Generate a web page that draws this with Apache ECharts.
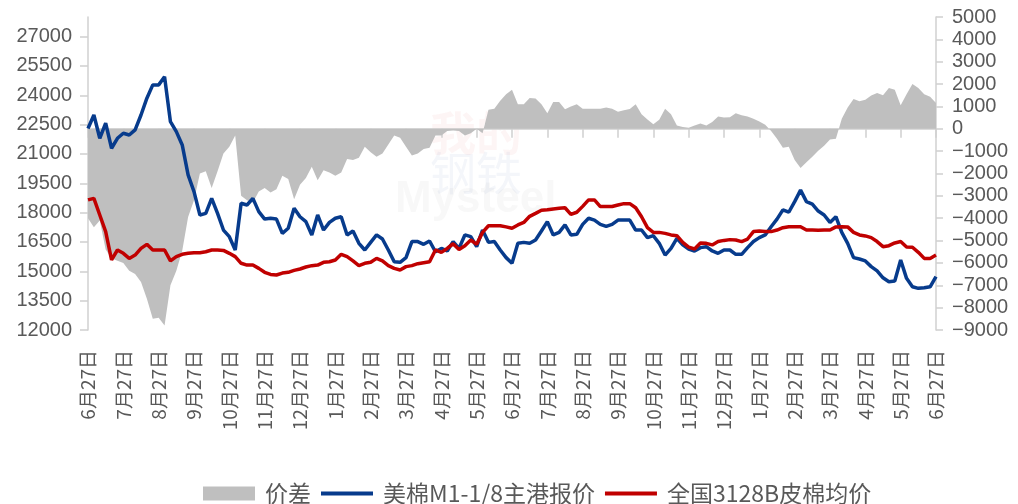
<!DOCTYPE html>
<html>
<head>
<meta charset="utf-8">
<script src="https://cdn.jsdelivr.net/npm/echarts@6/dist/echarts.min.js"></script>
<style>
  html, body { margin: 0; padding: 0; background: #fff; }
  #chart { width: 1018px; height: 504px; }
</style>
</head>
<body>
<div id="chart"></div>
<script>
// 月度刻度标签（6月27日 ~ 次年次年6月27日，共两年）
const monthLabels = ['6月27日', '7月27日', '8月27日', '9月27日', '10月27日', '11月27日', '12月27日',
  '1月27日', '2月27日', '3月27日', '4月27日', '5月27日', '6月27日', '7月27日', '8月27日', '9月27日',
  '10月27日', '11月27日', '12月27日', '1月27日', '2月27日', '3月27日', '4月27日', '5月27日', '6月27日'];
// 每月取6个点
const perMonth = 6;

// 美棉M1-1/8主港报价（左轴）
const usCotton = [
  22300, 22990, 21800, 22570, 21290, 21800,
  22060, 21970, 22230, 22990, 23850, 24530,
  24530, 24950, 22650, 22140, 21460, 19930,
  19070, 17880, 17960, 18730, 17960, 17110,
  16770, 16090, 18480, 18390, 18730, 18050,
  17670, 17710, 17670, 16940, 17200, 18220,
  17790, 17540, 16860, 17880, 17110, 17500,
  17710, 17790, 16860, 17060, 16430, 16090,
  16480, 16860, 16650, 16090, 15490, 15460,
  15700, 16520, 16520, 16380, 16550, 16000,
  16170, 16040, 16520, 16170, 16860, 16770,
  16260, 17110, 16480, 16520, 16090, 15700,
  15410, 16430, 16480, 16430, 16600, 17060,
  17540, 16860, 16990, 17370, 16860, 16890,
  17400, 17710, 17620, 17400, 17300, 17400,
  17620, 17620, 17620, 17110, 17110, 16720,
  16820, 16430, 15830, 16170, 16690, 16350,
  16140, 16040, 16210, 16260, 16040, 15920,
  16090, 16090, 15870, 15870, 16210, 16520,
  16720, 16860, 17280, 17670, 18140, 18020,
  18560, 19150, 18560, 18430, 18080, 17880,
  17500, 17790, 16990, 16430, 15700, 15630,
  15530, 15240, 15020, 14670, 14470, 14500,
  15580, 14640, 14210, 14130, 14160, 14210,
  14730
];

// 全国3128B皮棉均价（左轴）
const cnCotton = [
  18650, 18730, 17880, 17030, 15580, 16090,
  15920, 15660, 15830, 16170, 16380, 16090,
  16090, 16090, 15530, 15750, 15870, 15920,
  15950, 15950, 16000, 16090, 16090, 16070,
  15920, 15750, 15410, 15320, 15320, 15150,
  14950, 14840, 14810, 14910, 14950, 15050,
  15120, 15220, 15290, 15320, 15460, 15490,
  15580, 15870, 15750, 15530, 15290, 15410,
  15460, 15660, 15530, 15290, 15150, 15070,
  15240, 15290, 15390, 15440, 15490, 16090,
  15970, 16170, 16410, 16120, 16310, 16600,
  16380, 16990, 17330, 17330, 17330, 17270,
  17200, 17370, 17500, 17810, 17960, 18120,
  18150, 18190, 18220, 18250, 17910, 18020,
  18320, 18650, 18650, 18310, 18310, 18310,
  18390, 18460, 18460, 18250, 17790, 17230,
  16990, 16990, 16940, 16860, 16820, 16480,
  16240, 16140, 16450, 16430, 16350, 16520,
  16580, 16620, 16600, 16520, 16650, 17030,
  17060, 17040, 17030, 17110, 17230, 17280,
  17280, 17280, 17110, 17110, 17100, 17110,
  17110, 17270, 17280, 17270, 16990, 16860,
  16810, 16720, 16520, 16260, 16310, 16450,
  16520, 16240, 16230, 15970, 15660, 15660,
  15830
];

// 价差（右轴）
const spread = [
  -4000, -4400, -4100, -5400, -5800, -5900,
  -6000, -6350, -6500, -6850, -7600, -8500,
  -8450, -8800, -7000, -6350, -5450, -3950,
  -3200, -2000, -1900, -2650, -1900, -1100,
  -800, -300, -3000, -3200, -3300, -2800,
  -2650, -2850, -2700, -2100, -2250, -3150,
  -2500, -2200, -1700, -2300, -1850, -1950,
  -2100, -1950, -1350, -1400, -1300, -800,
  -1050, -1250, -1100, -700, -300, -400,
  -800, -1200, -1100, -900, -850, -300,
  -300, -100, -80, -100, -300, -200,
  0, -200, 850, 900, 1250, 1550,
  1750, 1100, 1100, 1380, 1350, 1100,
  700, 1200, 1200, 870, 1000, 1100,
  900, 900, 900, 900, 950, 900,
  760, 830, 880, 1100, 650, 420,
  200, 400, 900, 650, 150, 80,
  50, 150, 240, 150, 300, 550,
  500, 520, 700, 600, 550, 450,
  330, 180, -100, -450, -850, -800,
  -1400, -1750, -1500, -1250, -980, -760,
  -480, -450, 450, 950, 1330, 1230,
  1300, 1490, 1600, 1500, 1820, 1750,
  1050, 1550, 2000, 1820, 1550, 1430,
  1150
];

// 类目轴：每个月展开6个点，只在月初位置显示标签
let categories = [];
for (let i = 0; i < monthLabels.length - 1; i++) {
  for (let j = 0; j < perMonth; j++) {
    categories.push(i + '-' + j);
  }
}
categories.push((monthLabels.length - 1) + '-0');

const axisColor = '#D0D0D0';
const textColor = '#595959';

let myChart = echarts.init(document.getElementById('chart'));

let option = {
  animation: false,
  backgroundColor: '#fff',
  grid: { left: 88, right: 82, top: 17, bottom: 174 },
  legend: {
    left: 198,
    top: 477,
    itemWidth: 52,
    itemHeight: 14,
    itemGap: 8,
    textStyle: { fontSize: 23, color: textColor, fontFamily: 'Noto Sans CJK SC', padding: [0, 0, 0, 5] },
    data: [
      { name: '价差', icon: 'rect' },
      { name: '美棉M1-1/8主港报价', itemStyle: { opacity: 0 }, lineStyle: { width: 4 } },
      { name: '全国3128B皮棉均价', itemStyle: { opacity: 0 }, lineStyle: { width: 4 } }
    ]
  },
  graphic: [
    { type: 'text', left: 430, top: 110, z: 0, style: { text: '我的', fontSize: 46, fontWeight: 'bold', fill: 'rgba(220,60,60,0.05)', fontFamily: 'Noto Sans CJK SC' } },
    { type: 'text', left: 430, top: 150, z: 0, style: { text: '钢铁', fontSize: 46, fill: 'rgba(40,70,160,0.05)', fontFamily: 'Noto Sans CJK SC' } },
    { type: 'text', left: 395, top: 178, z: 0, style: { text: 'Mysteel', fontSize: 44, fontWeight: 'bold', fill: 'rgba(120,120,120,0.05)', fontFamily: 'Liberation Sans' } }
  ],
  xAxis: {
    type: 'category',
    boundaryGap: false,
    data: categories,
    axisLine: { lineStyle: { color: axisColor, width: 1.5 } },
    axisTick: { interval: perMonth - 1, length: 9, lineStyle: { color: axisColor, width: 1.5 } },
    axisLabel: {
      interval: perMonth - 1,
      rotate: 90,
      margin: 20,
      fontSize: 19,
      color: textColor,
      fontFamily: 'Noto Sans CJK SC',
      formatter: function (v, idx) {
        return idx % perMonth === 0 ? monthLabels[idx / perMonth] : '';
      }
    }
  },
  yAxis: [
    {
      type: 'value',
      min: 12000,
      max: 28000,
      interval: 1500,
      axisLine: { show: true, lineStyle: { color: axisColor, width: 1.5 } },
      axisTick: { show: true, length: 8, lineStyle: { color: axisColor, width: 1.5 } },
      splitLine: { show: false },
      axisLabel: {
        showMaxLabel: false, margin: 16, fontSize: 20, color: textColor, fontFamily: 'Liberation Sans',
        formatter: function (v) { return String(v); }
      }
    },
    {
      type: 'value',
      min: -9000,
      max: 5000,
      interval: 1000,
      position: 'right',
      axisLine: { show: true, lineStyle: { color: axisColor, width: 1.5 } },
      axisTick: { show: true, length: 7, lineStyle: { color: axisColor, width: 1.5 } },
      splitLine: { show: false },
      axisLabel: {
        margin: 16, fontSize: 20, color: textColor, fontFamily: 'Liberation Sans',
        formatter: function (v) { return v < 0 ? '\u2212' + Math.abs(v) : String(v); }
      }
    }
  ],
  series: [
    {
      name: '价差',
      type: 'line',
      yAxisIndex: 1,
      data: spread,
      symbol: 'none',
      color: '#BFBFBF',
      lineStyle: { width: 0 },
      areaStyle: { color: '#BFBFBF', opacity: 1 },
      z: 1
    },
    {
      name: '美棉M1-1/8主港报价',
      type: 'line',
      yAxisIndex: 0,
      data: usCotton,
      symbol: 'none',
      color: '#073B8C',
      lineStyle: { width: 3.5, color: '#073B8C' },
      z: 3
    },
    {
      name: '全国3128B皮棉均价',
      type: 'line',
      yAxisIndex: 0,
      data: cnCotton,
      symbol: 'none',
      color: '#C00000',
      lineStyle: { width: 3.5, color: '#C00000' },
      z: 4
    }
  ]
};

myChart.setOption(option);
</script>
</body>
</html>
